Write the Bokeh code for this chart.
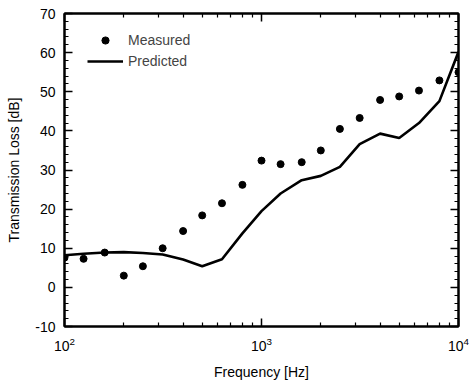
from bokeh.plotting import figure
from bokeh.models import (Range1d, LogAxis, LinearAxis, FixedTicker, SingleIntervalTicker,
                          Legend, LegendItem, PrintfTickFormatter)
from bokeh.embed import file_html
from bokeh.resources import INLINE

# Data
freq = [100, 125, 160, 200, 250, 315, 400, 500, 630, 800, 1000, 1250, 1600, 2000,
        2500, 3150, 4000, 5000, 6300, 8000, 10000]
measured = [7.6, 7.3, 8.9, 3.0, 5.4, 10.0, 14.4, 18.4, 21.5, 26.2, 32.4, 31.5, 32.0,
            35.0, 40.5, 43.3, 47.9, 48.8, 50.3, 52.9, 55.0]
predicted = [8.2, 8.6, 8.9, 9.0, 8.8, 8.4, 7.1, 5.4, 7.2, 13.8, 19.5, 24.0, 27.4,
             28.5, 30.8, 36.6, 39.3, 38.2, 42.0, 47.6, 60.2]

x_major = [100, 1000, 10000]
x_minor = [m * d for d in (100, 1000) for m in range(2, 10)]

FONT = "Liberation Sans"
FS = "14px"

p = figure(frame_width=394, frame_height=313, x_axis_type="log",
           x_range=Range1d(100, 10000), y_range=Range1d(-10, 70),
           output_backend="svg", toolbar_location=None,
           min_border_left=64, min_border_right=17, min_border_top=13, min_border_bottom=54)
p.xgrid.visible = False
p.ygrid.visible = False
p.outline_line_color = "black"
p.outline_line_width = 2
p.background_fill_color = "white"
p.border_fill_color = "white"

line_r = p.line(freq, predicted, line_color="black", line_width=2.6)
pts_r = p.scatter(freq, measured, size=7, marker="circle", fill_color="black", line_color="black")

xt = FixedTicker(ticks=x_major, minor_ticks=x_minor)
yt = SingleIntervalTicker(interval=10, num_minor_ticks=5)

def style(ax, labels=True):
    ax.axis_line_width = 2
    ax.axis_line_color = "black"
    ax.major_tick_in = 8
    ax.major_tick_out = 0
    ax.minor_tick_in = 4
    ax.minor_tick_out = 0
    ax.major_tick_line_width = 1.5
    ax.minor_tick_line_width = 1.2
    ax.major_label_text_font = FONT
    ax.major_label_text_font_size = FS
    ax.major_label_text_color = "black" if labels else None
    ax.axis_label_text_font = FONT
    ax.axis_label_text_font_size = FS
    ax.axis_label_text_font_style = "normal"
    ax.axis_label_text_color = "black"

xa = p.xaxis[0]
xa.ticker = xt
xa.axis_label = "Frequency [Hz]"
xa.major_label_standoff = 10
xa.axis_label_standoff = 10
style(xa)

ya = p.yaxis[0]
ya.ticker = yt
ya.formatter = PrintfTickFormatter(format="%d")
ya.axis_label = "Transmission Loss [dB]"
ya.major_label_standoff = 9
ya.axis_label_standoff = 10
style(ya)

top = LogAxis(ticker=xt)
style(top, labels=False)
top.major_label_text_font_size = "0px"
top.major_label_standoff = 0
p.add_layout(top, "above")

right = LinearAxis(ticker=yt)
style(right, labels=False)
right.major_label_text_font_size = "0px"
right.major_label_standoff = 0
p.add_layout(right, "right")

legend = Legend(items=[LegendItem(label="Measured", renderers=[pts_r]),
                       LegendItem(label="Predicted", renderers=[line_r])],
                location=(23, 256), margin=0, padding=10, spacing=3,
                glyph_width=36, glyph_height=18, label_height=18, label_standoff=5,
                border_line_color=None, background_fill_alpha=0,
                label_text_font=FONT, label_text_font_size=FS)
p.add_layout(legend)

open("out.html", "w").write(file_html(p, INLINE))
